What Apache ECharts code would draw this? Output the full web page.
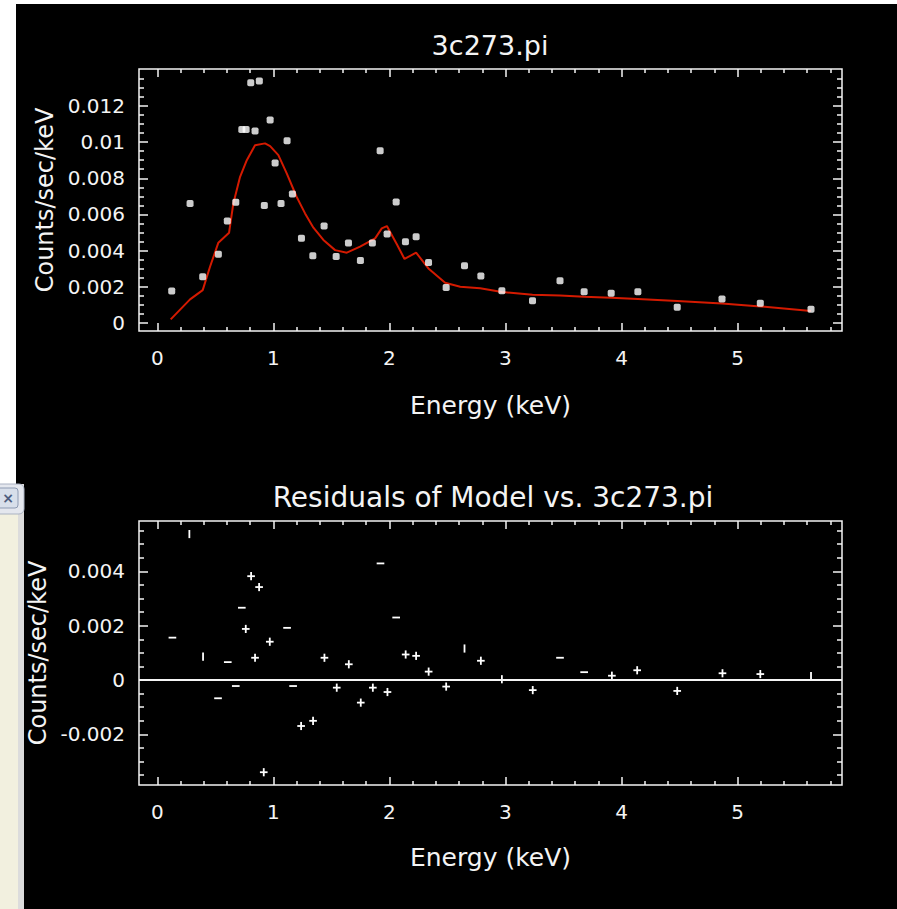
<!DOCTYPE html>
<html><head><meta charset="utf-8">
<script src="https://cdn.jsdelivr.net/npm/echarts@6/dist/echarts.min.js"></script>
<style>html,body{margin:0;padding:0;background:#fff}#c{width:897px;height:909px}</style>
</head><body><div id="c"></div>
<script>
// ---- top panel: observed spectrum ----
const dataX = [0.124,0.282,0.391,0.526,0.603,0.676,0.728,0.765,0.805,0.842,0.879,0.922,0.972,1.015,1.066,1.118,1.164,1.242,1.34,1.437,1.541,1.647,1.75,1.853,1.92,1.98,2.058,2.138,2.23,2.337,2.489,2.647,2.788,2.969,3.233,3.47,3.678,3.911,4.141,4.48,4.866,5.196,5.633];
const dataY = [0.00177,0.00661,0.00256,0.0038,0.00564,0.00667,0.0107,0.0107,0.01328,0.01061,0.01337,0.0065,0.01122,0.00884,0.00661,0.01007,0.00713,0.00468,0.00372,0.00536,0.00368,0.00442,0.00346,0.00442,0.00952,0.00492,0.00669,0.00449,0.00477,0.00335,0.00197,0.00317,0.0026,0.00178,0.00123,0.00234,0.00173,0.00164,0.00173,0.00087,0.00133,0.00109,0.00076];
// model curve
const modelX = [0.115,0.282,0.391,0.454,0.526,0.618,0.655,0.713,0.771,0.842,0.928,0.972,1.043,1.115,1.2,1.273,1.345,1.431,1.532,1.633,1.747,1.877,1.934,1.978,2.064,2.13,2.23,2.336,2.48,2.61,2.782,2.969,3.233,3.47,3.678,3.911,4.141,4.48,4.866,5.196,5.633];
const modelY = [0.0002,0.00131,0.00182,0.00311,0.00444,0.00499,0.00661,0.00808,0.009,0.00983,0.00993,0.00978,0.00928,0.00827,0.00698,0.00606,0.00527,0.00459,0.00403,0.00389,0.00422,0.00468,0.00523,0.00536,0.00435,0.00354,0.00389,0.00302,0.00223,0.00201,0.00192,0.00172,0.00157,0.00152,0.00145,0.0014,0.00133,0.00122,0.00108,0.00092,0.00066];
// ---- bottom panel: residuals with error-bar half widths ----
const resX = [0.13,0.276,0.394,0.523,0.607,0.676,0.728,0.762,0.808,0.842,0.877,0.917,0.969,1.118,1.17,1.239,1.342,1.44,1.546,1.65,1.753,1.857,1.923,1.983,2.058,2.14,2.23,2.338,2.489,2.647,2.788,2.969,3.235,3.47,3.678,3.917,4.135,4.48,4.87,5.196,5.633];
const resY = [0.00156,0.00537,0.00086,-0.00067,0.00066,-0.00022,0.00266,0.00188,0.00382,0.00082,0.00342,-0.00339,0.00141,0.00192,-0.00022,-0.00169,-0.0015,0.00082,-0.00028,0.00058,-0.00083,-0.00028,0.00429,-0.00044,0.0023,0.00094,0.00089,0.00031,-0.00024,0.00116,0.00071,0.00003,-0.00037,0.00082,0.00029,0.00016,0.00036,-0.0004,0.00025,0.00022,0.00015];
const resXErr = [0.033,0,0,0.033,0.033,0.033,0.033,0.033,0.033,0.033,0.033,0.033,0.033,0.033,0.033,0.033,0.033,0.033,0.033,0.033,0.033,0.033,0.033,0.033,0.033,0.033,0.033,0.033,0.033,0,0.033,0,0.033,0.033,0.033,0.033,0.033,0.033,0.033,0.033,0];
const resYErr = [0,0.00015,0.00015,0,0,0,0,0.00015,0.00015,0.00015,0.00015,0.00015,0.00015,0,0,0.00015,0.00015,0.00015,0.00015,0.00015,0.00015,0.00015,0,0.00015,0,0.00015,0.00015,0.00015,0.00015,0.00015,0.00015,0.00015,0.00015,0,0,0.00015,0.00015,0.00015,0.00015,0.00015,0.00015];
// ---- axes ----
const xRange = [-0.158, 5.9];
const xMajor = [0,1,2,3,4,5];
const xMinor = [0.2,0.4,0.6,0.8,1.2,1.4,1.6,1.8,2.2,2.4,2.6,2.8,3.2,3.4,3.6,3.8,4.2,4.4,4.6,4.8,5.2,5.4,5.6,5.8];
const yTopRange = [-0.00044, 0.01404];
const yTopMajor = [0,0.002,0.004,0.006,0.008,0.01,0.012];
const yTopMinor = [0.0005,0.001,0.0015,0.0025,0.003,0.0035,0.0045,0.005,0.0055,0.0065,0.007,0.0075,0.0085,0.009,0.0095,0.0105,0.011,0.0115,0.0125,0.013,0.0135];
const yResRange = [-0.00386, 0.00585];
const yResMajor = [-0.002,0,0.002,0.004];
const yResMinor = [-0.0035,-0.003,-0.0025,-0.0015,-0.001,-0.0005,0.0005,0.001,0.0015,0.0025,0.003,0.0035,0.0045,0.005,0.0055];
const title1 = '3c273.pi', title2 = 'Residuals of Model vs. 3c273.pi';
const xName = 'Energy (keV)', yName = 'Counts/sec/keV';

const FONT = 'DejaVu Sans';
const FG = '#f4f4f4';
const noLine = {show:false, onZero:false};
function xAxes(g, nameGap){
  const base = {type:'value', gridIndex:g, min:xRange[0], max:xRange[1], splitLine:{show:false}, axisLine:noLine};
  return [
    Object.assign({}, base, {position:'bottom', name:xName, nameLocation:'middle', nameGap:nameGap,
      nameTextStyle:{color:FG, fontFamily:FONT, fontSize:25},
      axisTick:{show:true, inside:true, length:8, customValues:xMajor, lineStyle:{color:FG, width:1.5}},
      axisLabel:{show:true, customValues:xMajor, margin:17, color:FG, fontFamily:FONT, fontSize:20}}),
    Object.assign({}, base, {position:'bottom', axisTick:{show:true, inside:true, length:4, customValues:xMinor, lineStyle:{color:FG, width:1.5}}, axisLabel:{show:false}}),
    Object.assign({}, base, {position:'top', axisTick:{show:true, inside:true, length:8, customValues:xMajor, lineStyle:{color:FG, width:1.5}}, axisLabel:{show:false}}),
    Object.assign({}, base, {position:'top', axisTick:{show:true, inside:true, length:4, customValues:xMinor, lineStyle:{color:FG, width:1.5}}, axisLabel:{show:false}})
  ];
}
function yAxes(g, range, major, minor){
  const base = {type:'value', gridIndex:g, min:range[0], max:range[1], splitLine:{show:false}, axisLine:noLine};
  return [
    Object.assign({}, base, {position:'left', name:yName, nameLocation:'middle', nameGap:76, nameRotate:90,
      nameTextStyle:{color:FG, fontFamily:FONT, fontSize:24},
      axisTick:{show:true, inside:true, length:9, customValues:major, lineStyle:{color:FG, width:1.5}},
      axisLabel:{show:true, customValues:major, margin:14, color:FG, fontFamily:FONT, fontSize:20, padding:[6,0,0,0]}}),
    Object.assign({}, base, {position:'left', axisTick:{show:true, inside:true, length:5, customValues:minor, lineStyle:{color:FG, width:1.5}}, axisLabel:{show:false}}),
    Object.assign({}, base, {position:'right', axisTick:{show:true, inside:true, length:9, customValues:major, lineStyle:{color:FG, width:1.5}}, axisLabel:{show:false}}),
    Object.assign({}, base, {position:'right', axisTick:{show:true, inside:true, length:5, customValues:minor, lineStyle:{color:FG, width:1.5}}, axisLabel:{show:false}})
  ];
}

const chart = echarts.init(document.getElementById('c'), null, {renderer:'svg'});
chart.setOption({
  backgroundColor:'#000',
  animation:false,
  graphic:[
    {type:'rect', shape:{x:0,y:0,width:897,height:4}, style:{fill:'#fff'}, z:100},
    {type:'rect', shape:{x:0,y:0,width:16,height:484}, style:{fill:'#fff'}, z:100},
    {type:'rect', shape:{x:0,y:484,width:18,height:425}, style:{fill:'#f2f0df'}, z:100},
    {type:'rect', shape:{x:18,y:484,width:6,height:425}, style:{fill:'#dcdcdc'}, z:100},
    {type:'rect', shape:{x:-8,y:484,width:32,height:30, r:5}, style:{fill:'#e4e7ee', stroke:'#aab2c2', lineWidth:1}, z:101},
    {type:'rect', shape:{x:-8,y:488,width:26,height:20, r:3}, style:{fill:'#d8dfea', stroke:'#8d9ab2', lineWidth:1}, z:102},
    {type:'text', style:{x:8, y:498, text:'×', fill:'#4d5d7e', font:'bold 14px DejaVu Sans', textAlign:'center', textVerticalAlign:'middle'}, z:103},
    {type:'text', style:{x:490, y:45, text:title1, fill:FG, font:'27px DejaVu Sans', textAlign:'center', textVerticalAlign:'middle'}},
    {type:'text', style:{x:493, y:497, text:title2, fill:FG, font:'28px DejaVu Sans', textAlign:'center', textVerticalAlign:'middle'}}
  ],
  grid:[
    {left:139, top:69, width:703, height:262, show:true, borderColor:FG, borderWidth:1.5, backgroundColor:'transparent'},
    {left:139, top:521, width:703, height:264, show:true, borderColor:FG, borderWidth:1.5, backgroundColor:'transparent'}
  ],
  xAxis: xAxes(0, 62).concat(xAxes(1, 60)),
  yAxis: yAxes(0, yTopRange, yTopMajor, yTopMinor).concat(yAxes(1, yResRange, yResMajor, yResMinor)),
  series:[
    {type:'line', xAxisIndex:0, yAxisIndex:0, data:modelX.map((x,i)=>[x, modelY[i]]), showSymbol:false, symbol:'none',
      lineStyle:{color:'#d41a00', width:2}, z:2},
    {type:'scatter', xAxisIndex:0, yAxisIndex:0, data:dataX.map((x,i)=>[x, dataY[i]]), symbol:'roundRect', symbolSize:7,
      itemStyle:{color:'#ffffff'}, z:3},
    {type:'custom', xAxisIndex:4, yAxisIndex:4,
      data: resX.map((x,i)=>[x, resY[i], resXErr[i], resYErr[i]]),
      encode:{x:0, y:1},
      renderItem:function(params, api){
        const x=api.value(0), y=api.value(1), xe=api.value(2), ye=api.value(3);
        const style={stroke:'#ffffff', lineWidth:1.8};
        const ch=[];
        if(xe>0){const a=api.coord([x-xe,y]), b=api.coord([x+xe,y]); ch.push({type:'line', shape:{x1:a[0],y1:a[1],x2:b[0],y2:b[1]}, style:style});}
        if(ye>0){const a=api.coord([x,y-ye]), b=api.coord([x,y+ye]); ch.push({type:'line', shape:{x1:a[0],y1:a[1],x2:b[0],y2:b[1]}, style:style});}
        return {type:'group', children:ch};
      },
      markLine:{silent:true, symbol:['none','none'], label:{show:false}, lineStyle:{color:FG, width:1.8, type:'solid'}, data:[{yAxis:0}]}
    }
  ]
});
</script></body></html>
